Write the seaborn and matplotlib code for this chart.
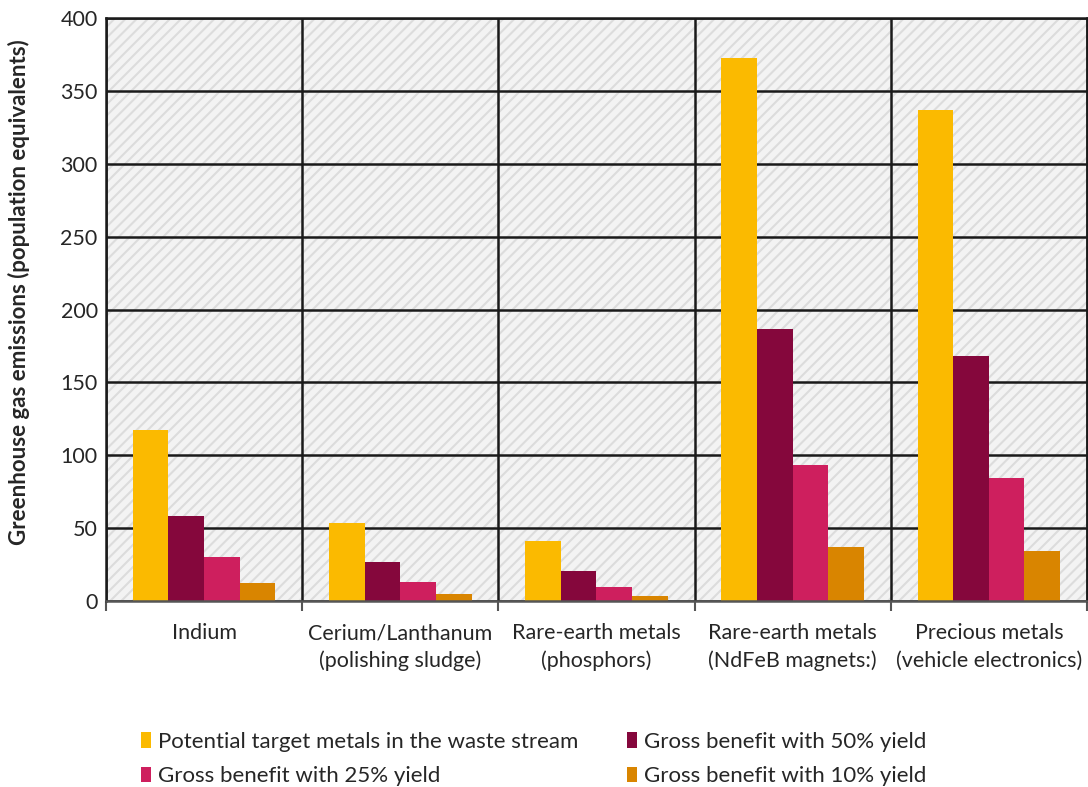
import matplotlib
matplotlib.use("Agg")
import matplotlib.pyplot as plt
from matplotlib.patches import Rectangle
import seaborn as sns
import pandas as pd
import numpy as np

categories = ["Indium", "Cerium/Lanthanum\n(polishing sludge)", "Rare-earth metals\n(phosphors)",
              "Rare-earth metals\n(NdFeB magnets:)", "Precious metals\n(vehicle electronics)"]
series = ["Potential target metals in the waste stream", "Gross benefit with 50% yield",
          "Gross benefit with 25% yield", "Gross benefit with 10% yield"]
potential = [117.3, 53.5, 41.0, 372.3, 336.9]
yield50 = [58.5, 26.8, 20.6, 186.6, 168.0]
yield25 = [30.4, 13.3, 9.6, 93.3, 84.4]
yield10 = [12.1, 4.8, 3.5, 37.0, 34.3]
colors = ["#FBBA00", "#85073C", "#CE1F5E", "#D98500"]
yticks = [0, 50, 100, 150, 200, 250, 300, 350, 400]

rows = []
for s, vals in zip(series, [potential, yield50, yield25, yield10]):
    for c, v in zip(categories, vals):
        rows.append({"cat": c, "series": s, "value": v})
df = pd.DataFrame(rows)

sns.set_theme(style="white")
plt.rcParams['font.family'] = ['Lato', 'DejaVu Sans']
plt.rcParams['hatch.color'] = '#dcdcdc'
plt.rcParams['hatch.linewidth'] = 1.5

fig = plt.figure(figsize=(10.88, 7.87), dpi=100)
ax = fig.add_axes([0.0974, 0.2363, 0.9016, 0.7408])

# hatched background
ax.add_patch(Rectangle((0, 0), 1, 1, transform=ax.transAxes, facecolor='#f3f3f3',
                       edgecolor='#dcdcdc', hatch='///', linewidth=0, zorder=0))

sns.barplot(data=df, x="cat", y="value", hue="series", palette=colors, width=0.727,
            gap=0, saturation=1, ax=ax, zorder=3, legend=True, edgecolor='none')

FS = 15.5
ax.set_ylim(0, 400)
ax.set_xlim(-0.5, 4.5)
ax.set_yticks(yticks)
ax.set_yticklabels([str(t) for t in yticks], fontsize=FS)
ax.set_xticks(range(5))
ax.set_xticklabels(categories, fontsize=FS, linespacing=1.45)
ax.set_xticks(np.arange(-0.5, 5.0, 1.0), minor=True)
ax.tick_params(axis='x', which='major', length=0, pad=16)
ax.tick_params(axis='x', which='minor', length=7, width=1.5, color='#555555', direction='out', bottom=True)
ax.tick_params(axis='y', which='major', length=0, pad=6, labelsize=FS)
ax.yaxis.grid(True, color='#1a1a1a', linewidth=1.8, zorder=1)
ax.xaxis.grid(True, which='minor', color='#1a1a1a', linewidth=1.8, zorder=1)
ax.xaxis.grid(False, which='major')
for sp in ax.spines.values():
    sp.set_color('#1a1a1a')
    sp.set_linewidth(1.8)
    sp.set_zorder(4)
ax.spines['bottom'].set_color('#555555')
ax.set_xlabel("")
ax.set_ylabel("Greenhouse gas emissions (population equivalents)", fontsize=16,
              fontweight='bold')
ax.yaxis.set_label_coords(-0.0775, 0.53)

handles, labels = ax.get_legend_handles_labels()
order = [0, 2, 1, 3]
ax.legend([handles[i] for i in order], [labels[i] for i in order], loc='upper left',
          bbox_to_anchor=(0.015, -0.19), ncol=2, frameon=False, fontsize=16,
          handlelength=0.45, handleheight=0.7, handletextpad=0.35,
          columnspacing=2.15, labelspacing=0.65)

fig.savefig("out.png", dpi=100)
